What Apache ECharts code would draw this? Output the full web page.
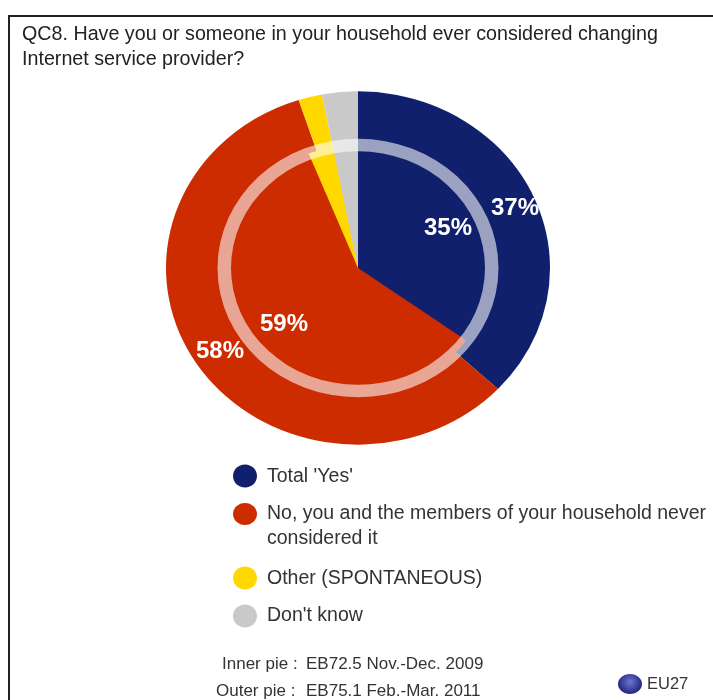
<!DOCTYPE html>
<html><head><meta charset="utf-8">
<style>html,body{margin:0;padding:0;background:#fff}#c{width:713px;height:700px;filter:blur(0.5px)}</style>
<script src="https://cdn.jsdelivr.net/npm/echarts@6/dist/echarts.min.js"></script>
</head><body><div id="c"></div>
<script>
const categories = ["Total 'Yes'", "No, you and the members of your household never considered it", "Other (SPONTANEOUS)", "Don't know"];
const outerValues = [37, 58, 2, 3];
const innerValues = [35, 59, 3, 3];
const colors = ['#10206c', '#cc2c00', '#ffd800', '#c9c9c9'];
const titleLines = ['QC8. Have you or someone in your household ever considered changing', 'Internet service provider?'];
const FONT = '"Liberation Sans", Arial, sans-serif';
const CX = 358, CY = 268, SY = 0.92;

const rows = [];
outerValues.forEach((v, i) => rows.push({ value: [0, i, v], name: categories[i] }));
innerValues.forEach((v, i) => rows.push({ value: [1, i, v], name: categories[i] }));

function angles(vals, i) {
  const sum = vals.reduce((a, b) => a + b, 0);
  const before = vals.slice(0, i).reduce((a, b) => a + b, 0);
  return [before / sum * 2 * Math.PI - Math.PI / 2, (before + vals[i]) / sum * 2 * Math.PI - Math.PI / 2];
}
function renderSlice(params, api) {
  const ring = api.value(0), i = api.value(1);
  const vals = ring === 0 ? outerValues : innerValues;
  const [a0, a1] = angles(vals, i);
  return {
    type: 'sector',
    x: CX, y: CY, scaleY: SY,
    shape: { cx: 0, cy: 0, r0: 0, r: ring === 0 ? 192 : 134, startAngle: a0, endAngle: a1, clockwise: true },
    style: { fill: colors[i], stroke: null }
  };
}
function txt(text, x, y, size, fill, weight, align) {
  return { type: 'text', x, y: y + 1.5, silent: true, z: 20, style: { text, fill, font: (weight || 'normal') + ' ' + size + 'px ' + FONT, textAlign: align || 'left', textVerticalAlign: 'middle' } };
}
function dot(x, y, rx, ry, fill) {
  return { type: 'ellipse', shape: { cx: x, cy: y, rx, ry }, style: { fill }, silent: true, z: 20 };
}
const graphics = [
  { type: 'polyline', shape: { points: [[9, 700], [9, 16], [713, 16]] }, style: { stroke: '#222', lineWidth: 2, fill: null }, silent: true },
  txt(titleLines[0], 22, 33, 19.7, '#222'),
  txt(titleLines[1], 22, 58, 19.7, '#222'),
  { type: 'ring', x: CX, y: CY, scaleY: SY, shape: { cx: 0, cy: 0, r: 140.5, r0: 127 }, style: { fill: 'rgba(255,255,255,0.58)' }, silent: true, z: 10 },
  txt('37%', 491, 207, 24, '#fff', 'bold'),
  txt('35%', 424, 227, 24, '#fff', 'bold'),
  txt('59%', 260, 323, 24, '#fff', 'bold'),
  txt('58%', 196, 350, 24, '#fff', 'bold'),
  dot(245, 476, 12, 11.5, colors[0]),
  dot(245, 514, 12, 11, colors[1]),
  dot(245, 578, 12, 11.5, colors[2]),
  dot(245, 616, 12, 11.5, colors[3]),
  txt(categories[0], 267, 475, 19.5, '#333'),
  txt('No, you and the members of your household never', 267, 512, 19.5, '#333'),
  txt('considered it', 267, 537, 19.5, '#333'),
  txt(categories[2], 267, 577, 19.5, '#333'),
  txt(categories[3], 267, 614, 19.5, '#333'),
  txt('Inner pie :', 222, 663, 17, '#333'),
  txt('EB72.5 Nov.-Dec. 2009', 306, 663, 17, '#333'),
  txt('Outer pie :', 216, 690, 17, '#333'),
  txt('EB75.1 Feb.-Mar. 2011', 306, 690, 17, '#333'),
  { type: 'ellipse', shape: { cx: 630, cy: 684, rx: 12, ry: 10 }, silent: true, z: 20,
    style: { fill: { type: 'radial', x: 0.5, y: 0.4, r: 0.6, colorStops: [{ offset: 0, color: '#6f74d8' }, { offset: 1, color: '#23287e' }] } } },
  txt('EU27', 647, 683, 16.5, '#333')
];
const chart = echarts.init(document.getElementById('c'), null, { renderer: 'canvas' });
chart.setOption({
  animation: false,
  backgroundColor: '#ffffff',
  series: [{ type: 'custom', coordinateSystem: 'none', renderItem: renderSlice, data: rows, silent: true, z: 2 }],
  graphic: { elements: graphics }
});
</script></body></html>
